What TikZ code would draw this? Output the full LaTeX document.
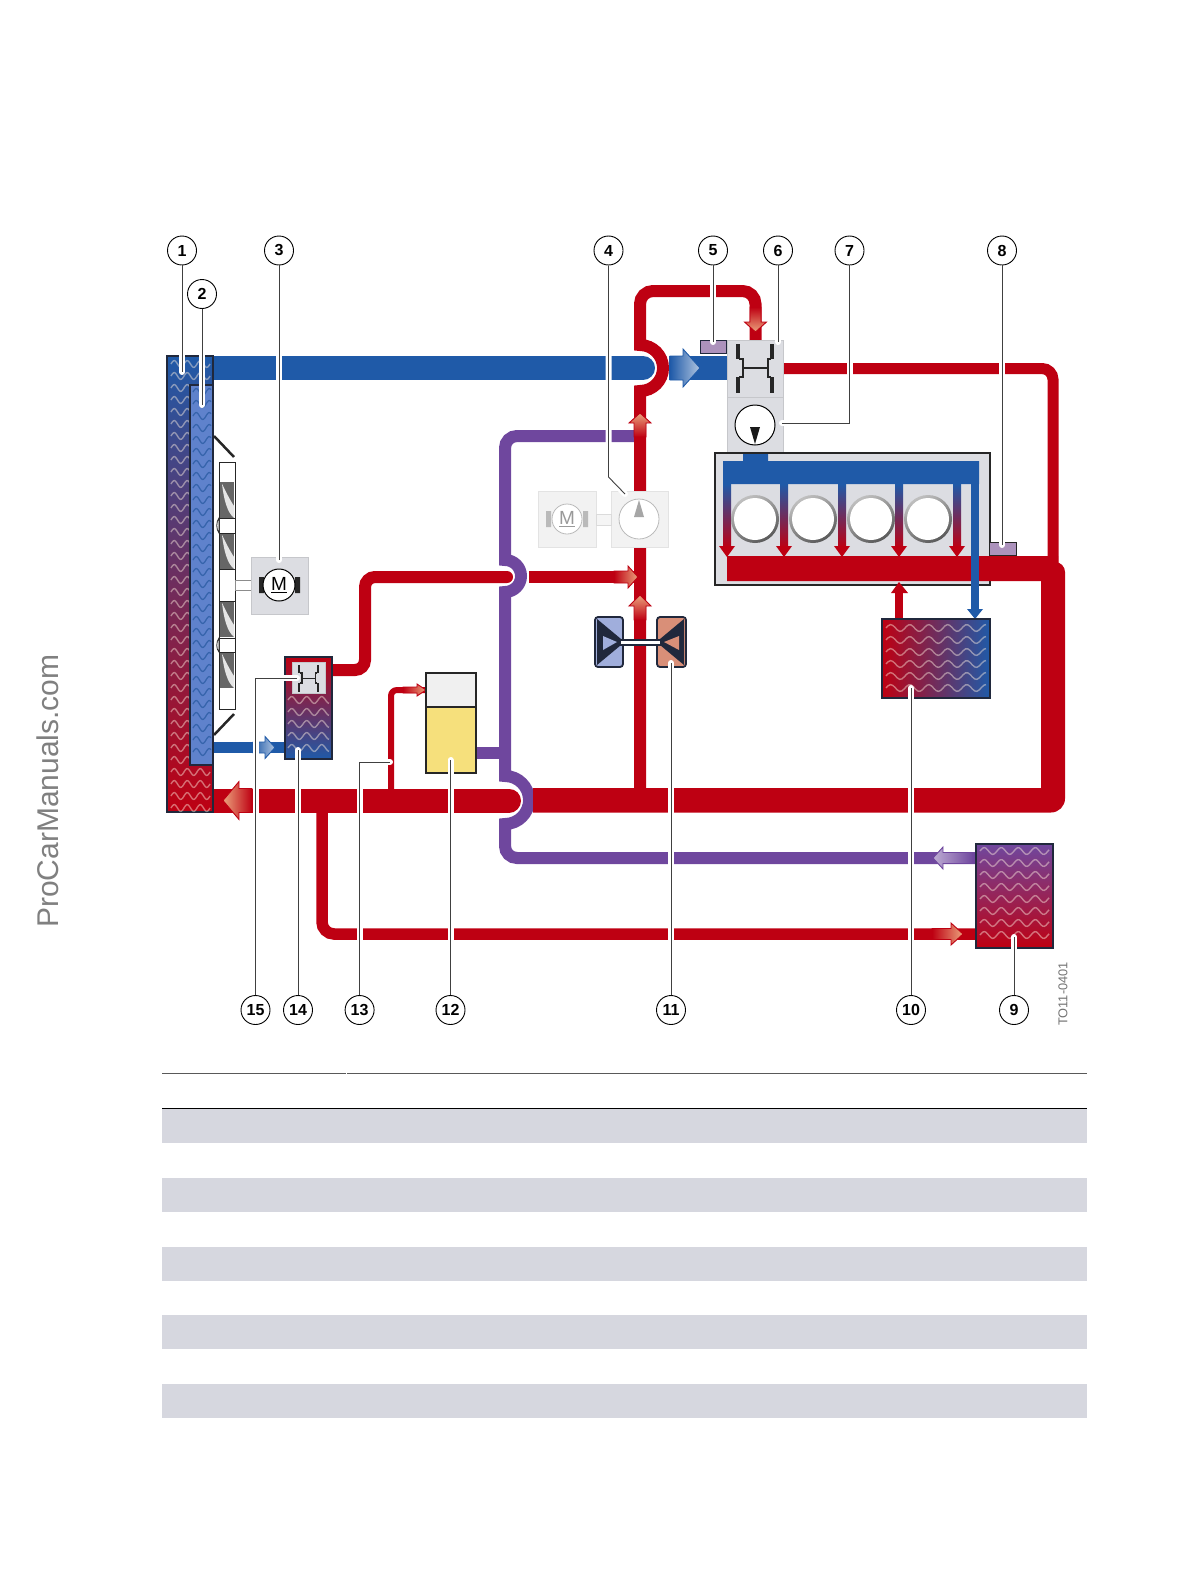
\documentclass[tikz,border=0pt]{standalone}
\usepackage{fontspec}
\setmainfont{Liberation Sans}
\usepackage{tikz}
\usetikzlibrary{calc}
\definecolor{pipered}{HTML}{BE0012}
\definecolor{pipeblue}{HTML}{1F5AA8}
\definecolor{pipepurple}{HTML}{6F479E}
\definecolor{boxgrey}{HTML}{DCDDE2}
\definecolor{rowgrey}{HTML}{D6D7DF}
\definecolor{edgedark}{HTML}{20283C}
\definecolor{salmontip}{HTML}{EBA27C}
\definecolor{coreblue}{HTML}{5F82CC}
\definecolor{sensorpurple}{HTML}{AC92BC}
\definecolor{oilyellow}{HTML}{F6E07C}
\definecolor{valveblue}{HTML}{A0AEDC}
\definecolor{valvered}{HTML}{D98F78}
\tikzset{
  redpipe/.style={draw=pipered,line width=#1},
  redpipe/.default=12pt,
  bluepipe/.style={draw=pipeblue,line width=#1},
  bluepipe/.default=24pt,
  purplepipe/.style={draw=pipepurple,line width=12pt},
  halo/.style={preaction={draw=white,line width=#1,line cap=round}},
  leader/.style={draw=black!75,line width=.9pt,preaction={draw=white,line width=6pt,line cap=round,shorten <=3pt}},
  callout/.style={circle,draw=black,fill=white,line width=.9pt,minimum size=29pt,inner sep=0pt,font=\bfseries\fontsize{16}{16}\selectfont},
  wave/.style={line width=1.4pt,draw=orange!12!white,opacity=.45},
  darkwave/.style={line width=1.3pt,draw=pipeblue!90!black,opacity=.6},
  exchanger/.style={draw=edgedark,line width=1.2pt},
  greybox/.style={fill=boxgrey,draw=boxgrey!90!black,line width=.5pt},
  fadebox/.style={fill=black!5,draw=black!11,line width=.8pt},
  redflow/.style={bottom color=pipered,top color=salmontip,draw=pipered},
  blueflow/.style={bottom color=pipeblue,top color=pipeblue!35!white,draw=pipeblue},
  purpleflow/.style={bottom color=pipepurple,top color=pipepurple!45!white,draw=pipepurple}
}
\newcommand{\wavefield}[6]{\foreach \rw in {1,...,#4}{\draw[#5] plot[domain=#1:#2,samples=45,smooth] (\x,{-#3-(\rw-1)*12+3.4*sin((\x-#1)/#6*360)});}}
\newcommand{\flowarrow}[8]{\shadedraw[#1,shading angle=#4-90,shift={(#2,#3)},rotate=#4,line width=.9pt] ({-#6-#5},#7) -- ({-#6},#7) -- ({-#6},#8) -- (0,0) -- ({-#6},{-#8}) -- ({-#6},{-#7}) -- ({-#6-#5},{-#7}) -- cycle;}
\newcommand{\thermostat}[3]{\begin{scope}[shift={(#1,#2)},scale=#3,draw=black!85]
  \draw[line width=#3*3.4pt] (-17,24) -- (-17,9) (-17,-9) -- (-17,-25) (17,24) -- (17,9) (17,-9) -- (17,-25);
  \draw[line width=#3*2.2pt] (-16,9) -- (-12,9) -- (-12,-9) -- (-16,-9) (16,9) -- (13,9) -- (13,-9) -- (16,-9);
  \draw[line width=#3*1.8pt] (-12,0) -- (13,0);
\end{scope}}
\newcommand{\fanblade}[1]{\fill[black!60] (220,-#1) rectangle (234,{-#1-36});
  \fill[white!80!gray] (222,{-#1-2}) .. controls (224,{-#1-18}) and (227,{-#1-30}) .. (234,{-#1-36}) -- (234,{-#1-24}) .. controls (230,{-#1-18}) and (226,{-#1-10}) .. (222,{-#1-2});}
\newcommand{\cooling}[1]{\shade[top color=pipeblue,bottom color=pipered] ({#1-4},-484) rectangle ({#1+4},-548);
  \fill[pipered] ({#1-8},-546) -- ({#1+8},-546) -- (#1,-557) -- cycle;}
\begin{document}
\begin{tikzpicture}[x=1pt,y=1pt]
    \useasboundingbox (0,0) rectangle (1189,-1584);
    \node[rotate=90,text=black!50,font=\fontsize{30}{30}\selectfont] (site) at (47.5,-791) {ProCarManuals.com};

    \draw[purplepipe] (634,-436) -- (517,-436) arc[start angle=90,end angle=180,radius=12] -- (505,-560) arc[start angle=90,end angle=-90,radius=16] -- (505,-776) arc[start angle=90,end angle=-90,radius=24] -- (505,-846) arc[start angle=180,end angle=270,radius=12] -- (977,-858);
    \draw[purplepipe] (476,-753) -- (499,-753);

    \draw[redpipe,halo=15pt,line cap=round,rounded corners=10] (330,-670) -- (365,-670) -- (365,-577) -- (507,-577);
    \draw[redpipe] (529,-577) -- (640,-577);
    \draw[redpipe=24pt,halo=27pt,line cap=round] (205,-800.5) -- (509,-800.5);
    \draw[redpipe=11.5pt,rounded corners=12] (322,-805) -- (322,-934) -- (977,-934);
    \draw[redpipe=6pt,rounded corners=6] (391,-795) -- (391,-690) -- (426,-690);
    \draw[redpipe] (640,-795) -- (640,-391) arc[start angle=-90,end angle=90,radius=23] -- (640,-304) arc[start angle=180,end angle=90,radius=13] -- (742.5,-291) arc[start angle=90,end angle=0,radius=13] -- (755.5,-342);
    \draw[redpipe=11pt,rounded corners=11] (781,-368.5) -- (1053,-368.5) -- (1053,-570);
    \draw[bluepipe,halo=27pt,line cap=round] (205,-368) -- (643,-368);
    \draw[bluepipe] (669,-368) -- (729,-368);
    \draw[bluepipe=11.5pt] (213,-747.5) -- (287,-747.5);

    \flowarrow{blueflow}{700}{-368}{0}{13}{17}{12}{19}
    \flowarrow{blueflow}{275}{-747.5}{0}{12}{10}{5.5}{11}
    \flowarrow{redflow}{223}{-800.5}{180}{13}{16}{12}{19}
    \flowarrow{redflow}{755.5}{-332}{-90}{15}{10}{5.5}{11}
    \flowarrow{redflow}{640}{-413}{90}{14}{10}{6}{11}
    \flowarrow{redflow}{640}{-595}{90}{14}{11}{6}{11}
    \flowarrow{redflow}{638}{-577}{0}{14}{10}{6}{11}
    \flowarrow{redflow}{426}{-690}{0}{14}{9}{3}{6}
    \flowarrow{redflow}{963}{-934}{0}{19}{12}{5.5}{11}
    \flowarrow{purpleflow}{933}{-858}{180}{30}{10}{5.5}{11}

    \shadedraw[exchanger,top color=pipeblue,bottom color=pipered] (167,-356) rectangle (213,-812);
    \wavefield{171}{210}{364}{38}{wave}{13}
    \filldraw[exchanger,fill=coreblue] (190,-385) rectangle (213,-765);
    \wavefield{193}{211}{392}{31}{darkwave}{13}
    \draw[black!85,line width=2.5pt] (214,-436) -- (234,-457) (214,-735) -- (234,-714);
    \filldraw[fill=white,draw=black!85,line width=1pt] (219,-462) rectangle (235,-709);
    \filldraw[fill=white,draw=black!85,line width=.8pt] (219,-518) .. controls (216,-522) and (216,-529) .. (219,-533) -- cycle;
    \filldraw[fill=white,draw=black!85,line width=.8pt] (219,-638) .. controls (216,-642) and (216,-649) .. (219,-652) -- cycle;
    \fanblade{482}
    \fanblade{533}
    \fanblade{601}
    \fanblade{652}
    \draw[black!85,line width=.8pt] (219,-518) -- (235,-518) (219,-533) -- (235,-533) (219,-569) -- (235,-569) (219,-601) -- (235,-601) (219,-638) -- (235,-638) (219,-652) -- (235,-652);

    \filldraw[fill=white,draw=black!45,line width=.8pt] (235,-580) rectangle (251,-590);
    \filldraw[greybox] (251,-557) rectangle (308,-614);
    \fill[black!85] (259,-577) rectangle (264,-593) (295,-577) rectangle (300,-593);
    \node[circle,draw=black,fill=white,line width=1pt,minimum size=32pt,inner sep=0pt,font=\fontsize{19}{19}\selectfont] (motor) at (279,-585) {\underline{M}};

    \shadedraw[exchanger,top color=pipered,bottom color=pipeblue] (285,-657) rectangle (332,-759);
    \wavefield{288}{329}{700}{5}{wave}{15}
    \filldraw[greybox] (292,-662) rectangle (325,-693);
    \thermostat{308.5}{-678}{.55}

    \filldraw[draw=black!85,line width=1.5pt,fill=black!6] (426,-673) rectangle (476,-707);
    \filldraw[draw=black!85,line width=1.5pt,fill=oilyellow] (426,-707) rectangle (476,-773);

    \filldraw[fadebox] (538,-491) rectangle (596,-547);
    \filldraw[fadebox] (611,-491) rectangle (668,-547);
    \filldraw[fill=black!4,draw=black!14,line width=.8pt] (596,-514) rectangle (611,-525);
    \fill[black!27] (546,-511) rectangle (551,-527) (583,-511) rectangle (588,-527);
    \node[circle,draw=black!27,fill=white,line width=.8pt,minimum size=30pt,inner sep=0pt,text=black!40,font=\fontsize{19}{19}\selectfont] (fademotor) at (567,-519) {\underline{M}};
    \node[circle,draw=black!27,fill=white,line width=.8pt,minimum size=40pt,inner sep=0pt] (fadepump) at (639,-519) {};
    \fill[black!35] (634,-517) -- (644,-517) -- (639,-500) -- cycle;

    \filldraw[fill=valveblue,draw=edgedark,line width=1.8pt,rounded corners=3] (595,-617) rectangle (623,-667);
    \fill[edgedark] (597,-619) -- (621,-639) -- (621,-645) -- (597,-665) -- cycle;
    \fill[valveblue] (603,-636) -- (617,-642) -- (603,-650) -- cycle;
    \filldraw[fill=valvered,draw=edgedark,line width=1.8pt,rounded corners=3] (657,-617) rectangle (686,-667);
    \fill[edgedark] (684,-619) -- (660,-639) -- (660,-645) -- (684,-665) -- cycle;
    \fill[valvered] (679,-636) -- (664,-642) -- (679,-650) -- cycle;
    \filldraw[fill=white,draw=edgedark,line width=2pt] (620,-639.5) rectangle (661,-644.5);

    \filldraw[greybox] (727,-340) rectangle (783,-397);
    \filldraw[greybox] (727,-397) rectangle (783,-453);
    \thermostat{755}{-368}{1}
    \node[circle,draw=black,fill=white,line width=1pt,minimum size=40pt,inner sep=0pt] (pump) at (755,-425) {};
    \fill[black!90] (750,-427) -- (760,-427) -- (755,-444) -- cycle;
    \filldraw[draw=edgedark,line width=1pt,fill=sensorpurple] (700,-340) rectangle (726,-353);

    \filldraw[draw=black!85,line width=1.5pt,fill=boxgrey] (715,-453) rectangle (990,-585);
    \fill[pipeblue] (723,-461) rectangle (979,-484) (743,-454) rectangle (768,-461);
    \fill[pipered] (727,-556) -- (1058,-556) -- (1058,-562) [rounded corners=10] -- (1065,-562) [rounded corners=14] -- (1065,-812.5) [sharp corners] -- (533,-812.5) -- (533,-788) -- (1041,-788) -- (1041,-581) -- (727,-581) -- cycle;
    \filldraw[draw=black!85,line width=1pt,fill=sensorpurple] (989,-542) rectangle (1016,-555);
    \cooling{727}
    \cooling{784}
    \cooling{842}
    \cooling{899}
    \cooling{957}
    \foreach \cx in {755,813,871,928}{
      \shade[top color=black!25,bottom color=black!65,shading angle=30] (\cx,-519) circle[radius=24];
      \fill[white] (\cx,-519) circle[radius=21];
    }
    \fill[pipeblue] (971,-484) rectangle (979,-610);
    \fill[pipeblue] (967,-609) -- (983,-609) -- (975,-619) -- cycle;
    \fill[pipered] (895,-619) rectangle (903,-592);
    \fill[pipered] (891,-593) -- (908,-593) -- (899,-582) -- cycle;

    \shadedraw[exchanger,left color=pipered,right color=pipeblue] (882,-619) rectangle (990,-698);
    \wavefield{886}{986}{628}{6}{wave}{19}
    \shadedraw[exchanger,top color=pipepurple,bottom color=pipered] (976,-844) rectangle (1053,-948);
    \wavefield{980}{1049}{851}{8}{wave}{17}

    \node[callout] (n1) at (182,-250.5) {1};
    \node[callout] (n2) at (202,-294) {2};
    \node[callout] (n3) at (279,-250.5) {3};
    \node[callout] (n4) at (608.5,-250.5) {4};
    \node[callout] (n5) at (713,-250.5) {5};
    \node[callout] (n6) at (778,-250.5) {6};
    \node[callout] (n7) at (849.5,-250.5) {7};
    \node[callout] (n8) at (1002,-250.5) {8};
    \node[callout] (n9) at (1014,-1010) {9};
    \node[callout] (n10) at (911,-1010) {10};
    \node[callout] (n11) at (671,-1010) {11};
    \node[callout] (n12) at (450.5,-1010) {12};
    \node[callout] (n13) at (359.6,-1010) {13};
    \node[callout] (n14) at (298,-1010) {14};
    \node[callout] (n15) at (255.5,-1010) {15};

    \coordinate (e1) at (182,-372);
    \coordinate (e2) at (202,-405);
    \coordinate (e3) at (279,-560);
    \coordinate (b4) at (608.5,-477);
    \coordinate (e4) at (625,-494);
    \coordinate (e5) at (713,-342);
    \coordinate (e6) at (778,-342);
    \coordinate (e7) at (782,-423);
    \coordinate (e8) at (1002,-545);
    \coordinate (e9) at (1014,-937);
    \coordinate (e10) at (911,-688);
    \coordinate (e11) at (671,-663);
    \coordinate (e12) at (450.5,-760);
    \coordinate (e13) at (390,-762);
    \coordinate (e14) at (298,-750);
    \coordinate (e15) at (297,-678);

    \draw[leader] (n1) -- (e1);
    \draw[leader] (n2) -- (e2);
    \draw[leader] (n3) -- (e3);
    \draw[leader] (n4) -- (b4) -- (e4);
    \draw[leader] (n5) -- (e5);
    \draw[leader] (n6) -- (e6);
    \draw[leader] (n7) |- (e7);
    \draw[leader] (n8) -- (e8);
    \draw[leader] (n9) -- (e9);
    \draw[leader] (n10) -- (e10);
    \draw[leader] (n11) -- (e11);
    \draw[leader] (n12) -- (e12);
    \draw[leader] (n13) |- (e13);
    \draw[leader] (n14) -- (e14);
    \draw[leader] (n15) |- (e15);

    \node[rotate=90,text=black!55,font=\fontsize{12.8}{12.8}\selectfont] (code) at (1063,-994) {TO11-0401};

    \foreach \ry in {1109,1178,1247,1315,1384}{
      \fill[rowgrey] (162,-\ry) rectangle (1087,{-\ry-34});
    }
    \draw[black!65,line width=.9pt] (162,-1073) -- (345.5,-1073) (346.8,-1073) -- (1087,-1073);
    \draw[black,line width=1pt] (162,-1108.5) -- (1087,-1108.5);
\end{tikzpicture}
\end{document}
